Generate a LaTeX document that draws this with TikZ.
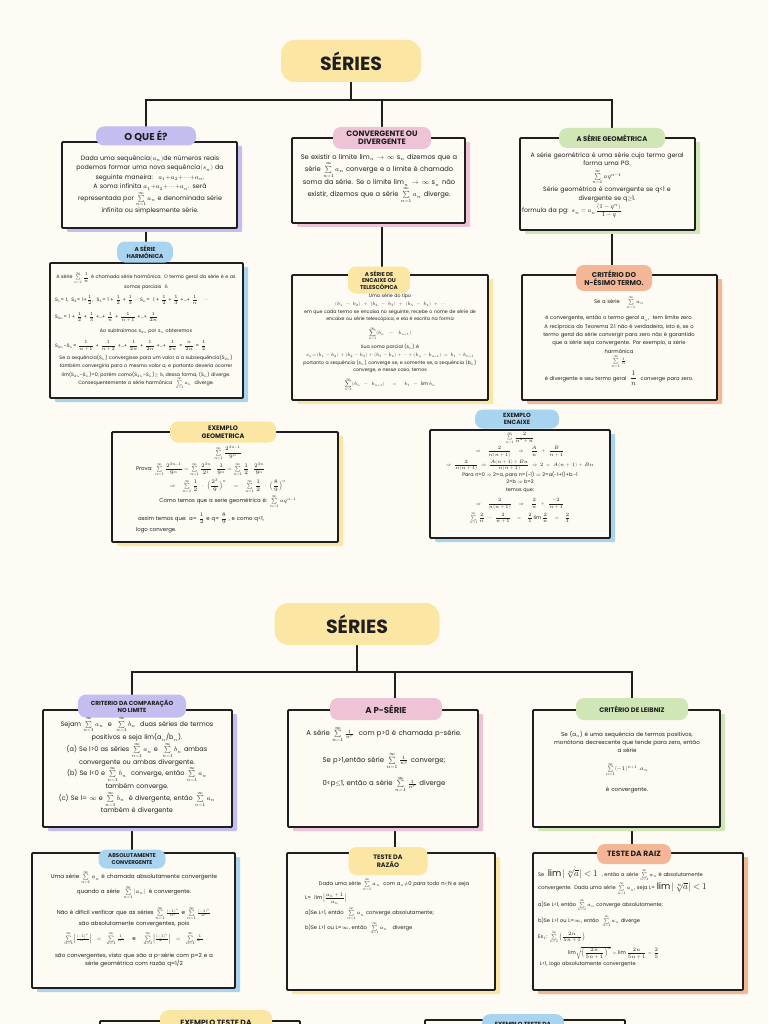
\documentclass[tikz,border=0pt]{standalone}
\usepackage{amsmath}
\usepackage{fontspec}
\usepackage{unicode-math}
\setmathfont{Latin Modern Math}
\setmainfont{Poppins}
\usetikzlibrary{shadows}
\definecolor{paper}{HTML}{FDFBF4}
\definecolor{ink}{HTML}{1F1F1F}
\definecolor{cyel}{HTML}{FBE6A4}
\definecolor{cpur}{HTML}{C4BDEF}
\definecolor{cpink}{HTML}{EFC3D6}
\definecolor{cgreen}{HTML}{D0E6B6}
\definecolor{cblue}{HTML}{A9D4EF}
\definecolor{corange}{HTML}{F3B797}
\pgfdeclarelayer{bg}
\pgfsetlayers{bg,main}
\newcommand\hf[2]{\fontsize{#1}{#2}\selectfont}
\newcommand\Lline[1]{\makebox[\linewidth][l]{#1}}
\newcommand\Sinf{\sum\limits_{n=1}^{\infty}}
\tikzset{
 pill/.style={fill=#1, rounded corners=8pt, inner sep=1pt, align=center, text=ink},
 card/.style={draw=ink, line width=1.8pt, fill=paper, rounded corners=1pt, inner sep=0pt,
   general shadow={fill=#1, shadow xshift=5pt, shadow yshift=-4pt}},
 txt/.style={align=center, text=ink, inner sep=0pt, anchor=north},
 link/.style={draw=ink, line width=2.4pt, line cap=round},
}
\newcommand\card[6]{\node[card=#6, minimum width={#4-#2}, minimum height={#5-#3}] (#1) at ({(#2+#4)/2},{(#3+#5)/2}) {};}
\begin{document}
\begin{tikzpicture}[x=1pt,y=-1pt]
\begin{pgfonlayer}{bg}
\fill[paper] (0,0) rectangle (768,1024);
\end{pgfonlayer}
\useasboundingbox (0,0) rectangle (768,1024);

% ---------------- PAGE 1 ----------------
\card{boque}{62}{142}{237}{228}{cpur}
\card{bconv}{292}{138}{465}{223}{cpink}
\card{bgeo}{520}{138}{695}{230}{cgreen}
\card{bharm}{50}{263}{243}{398}{cblue}
\card{benc}{292}{275}{488}{400}{cyel}
\card{bnes}{522}{275}{717}{400}{corange}
\card{bexg}{112}{432}{338}{542}{cyel}
\card{bexe}{430}{430}{610}{538}{cblue}

\node[pill=cyel, rounded corners=14pt, minimum width=140, minimum height=42, font=\bfseries\hf{19}{20}] (t1) at (351,61) {SÉRIES};
\node[pill=cpur, minimum width=100, minimum height=19, font=\bfseries\hf{10}{11}] (poque) at (146,136) {O QUE É?};
\node[pill=cpink, minimum width=98, minimum height=22, font=\bfseries\hf{7.8}{8.2}] (pconv) at (382,138) {CONVERGENTE OU\\DIVERGENTE};
\node[pill=cgreen, minimum width=106, minimum height=20, font=\bfseries\hf{6.8}{8}] (pgeo) at (612,138) {A SÉRIE GEOMÉTRICA};
\node[pill=cblue, minimum width=56, minimum height=21, font=\bfseries\hf{5.8}{6.8}] (pharm) at (145,252) {A SÉRIE\\HARMÔNICA};
\node[pill=cyel, minimum width=62, minimum height=27, font=\bfseries\hf{5.6}{6.6}] (penc) at (379,280) {A SÉRIE DE\\ENCAIXE OU\\TELESCÓPICA};
\node[pill=corange, minimum width=76, minimum height=26, font=\bfseries\hf{7}{8.3}] (pnes) at (614,278) {CRITÉRIO DO\\N-ÉSIMO TERMO.};
\node[pill=cyel, minimum width=106, minimum height=21, font=\bfseries\hf{6.5}{7.8}] (pexg) at (223,432) {EXEMPLO\\GEOMETRICA};
\node[pill=cblue, minimum width=84, minimum height=19, font=\bfseries\hf{6}{7}] (pexe) at (517,419) {EXEMPLO\\ENCAIXE};

\node[txt, text width=170, font=\hf{6.3}{9.6}] (toque) at (150,155) {Dada uma sequência$(a_n)$de números reais\\
podemos formar uma nova sequência$(s_n)$ da\\
seguinte maneira: \ $a_1{+}a_2{+}\cdots{+}a_n$.\\
A soma infinita $a_1{+}a_2{+}\cdots{+}a_n$. será\\
representada por $\Sinf a_n$ e denominada série\\
infinita ou simplesmente série.};

\node[txt, text width=172, font=\hf{6.7}{10.5}] (tconv) at (379,154) {Se existir o limite lim$_n\to\infty$ s$_n$ dizemos que a\\
série $\Sinf a_n$ converge e o limite é chamado\\
soma da série. Se o limite lim$_n\to\infty$ s$_n$ não\\
existir, dizemos que a série $\Sinf a_n$ diverge.};

\node[txt, text width=170, font=\hf{6.2}{8.6}] (tgeo) at (607,152) {A série geométrica é uma série cujo termo geral\\
forma uma PG.\\[3pt]
$\Sinf aq^{n-1}$\\[1pt]
Série geométrica é convergente se q<1 e\\
divergente se q$\geq$1.\\[1pt]
\Lline{formula da pg: $s_n=a_n\dfrac{(1-q^n)}{1-q}$}};

\node[txt, text width=182, font=\hf{4.8}{8.3}] (tharm) at (146,272) {A série $\Sinf\dfrac{1}{n}$ é chamada série harmônica. O termo geral da série é e as\\
somas parciais \ ½\\[5pt]
\Lline{S$_1$= 1, \ S$_2$= 1+$\dfrac12$, \ S$_3$= 1 + $\dfrac12$ + $\dfrac13$ $\cdots$ S$_n$= \ 1 + $\dfrac12$ + $\dfrac13$ +…+ $\dfrac1n$ \quad $\cdots$}\\[6pt]
\Lline{S$_{2n}$= 1 + $\dfrac12$ + $\dfrac13$ +…+ $\dfrac1n$ + $\dfrac1{n+1}$ +…+ $\dfrac1{2n}$}\\[6pt]
Ao subtrairmos s$_{2n}$ por s$_n$ obteremos\\[6pt]
\Lline{S$_{2n}$–S$_n$= $\dfrac1{n+1}$ + $\dfrac1{n+2}$ +…+ $\dfrac1{2n}$ + $\dfrac1{2n}$ +…+ $\dfrac1{2n}$ = $\dfrac{n}{2n}$ = $\dfrac12$}\\[4pt]
Se a sequência(S$_n$) convergisse para um valor a a subsequência(S$_{2n}$)\\
também convergiria para o mesmo valor a, e portanto deveria ocorrer\\
lim(S$_{2n}$–S$_n$)=0, porém como(S$_{2n}$–S$_n$)$\geq$ ½, dessa forma, (S$_n$) diverge.\\
Consequentemente a série harmônica \ $\Sinf a_n$ \ diverge.};

\node[txt, text width=188, font=\hf{4.7}{7.7}] (tenc) at (390,294) {Uma série do tipo\\
$(b_1-b_2)+(b_2-b_3)+(b_3-b_4)+\cdots$\\
em que cada termo se encaixa no seguinte, recebe o nome de série de\\
encaixe ou série telescópica, e ela é escrita na forma\\[4pt]
$\displaystyle\sum_{n=1}^{\infty}(b_n-b_{n+1})$\\[3pt]
Sua soma parcial (s$_n$) é\\
$s_n{=}\,(b_1-b_2)+(b_2-b_3)+(b_3-b_4)+\cdots+(b_n-b_{n+1})=b_1-b_{n+1}$\\
portanto a sequência (s$_n$) converge se, e somente se, a sequência (b$_n$)\\
converge, e nesse caso, temos\\[4pt]
$\displaystyle\sum_{n=1}^{\infty}(b_n-b_{n+1})=b_1-\lim b_n$};

\node[txt, text width=190, font=\hf{5.2}{8.4}] (tnes) at (619,296) {Se a série \quad $\Sinf a_n$\\[6pt]
é convergente, então o termo geral a$_n$, \ tem limite zero.\\
A recíproca do Teorema 2.1 não é verdadeira, isto é, se o\\
termo geral da série convergir para zero não é garantido\\
que a série seja convergente. Por exemplo, a série\\
harmônica\\[1pt]
$\Sinf\frac{1}{n}$\\[2pt]
é divergente e seu termo geral \ {\hf{7}{8}$\dfrac{1}{n}$} \ converge para zero.};

\node[txt, text width=200, font=\hf{5.4}{8.4}] (texg) at (228,446) {$\Sinf\dfrac{2^{3n-1}}{9^n}$\\[2pt]
\Lline{\hspace{8pt}Prova: $\Sinf\dfrac{2^{3n-1}}{9^n}=\Sinf\dfrac{2^{3n}}{2^1}\cdot\dfrac{1}{9^n}=\Sinf\dfrac12\cdot\dfrac{2^{3n}}{9^n}$}\\[2pt]
$\Rightarrow\Sinf\dfrac12\cdot\Big(\dfrac{2^3}{9}\Big)^n=\Sinf\dfrac12\cdot\Big(\dfrac89\Big)^n$\\[1pt]
Como temos que a serie geométrica é: $\Sinf aq^{n-1}$\\[4pt]
\Lline{\hspace{10pt}assim temos que: a= $\dfrac12$ e q= $\dfrac89$ , e como q<1,}\\[3pt]
\Lline{\hspace{8pt}logo converge.}};

\node[txt, text width=170, font=\hf{4.9}{7.4}] (texe) at (520,432) {$\Sinf\dfrac{2}{n^2+n}$\\[1pt]
$\Rightarrow\dfrac{2}{n(n+1)}\Rightarrow\dfrac{A}{n}+\dfrac{B}{n+1}$\\[1pt]
$\Rightarrow\dfrac{2}{n(n+1)}\Rightarrow\dfrac{A(n+1)+Bn}{n(n+1)}\Rightarrow2=A(n+1)+Bn$\\
Para n=0 $\Rightarrow$ 2=a, para n=(-1) $\Rightarrow$ 2=a(-1+1)+b.-1\\
2=b $\Rightarrow$ b=2\\
temos que:\\[5pt]
$\Rightarrow\dfrac{2}{n(n+1)}\Rightarrow\dfrac{2}{n}+\dfrac{-2}{n+1}$\\[2pt]
$\Sinf\dfrac{2}{n}-\dfrac{2}{n+1}=\dfrac{2}{1}\lim\dfrac{2}{n}=\dfrac{2}{1}$};

\begin{pgfonlayer}{bg}
\coordinate (hub1) at (351,100);
\draw[link] (t1.center) -- (hub1);
\draw[link] (poque.center) |- (hub1) -| (pgeo.center);
\draw[link] (hub1) -| (pconv.center);
\draw[link] (poque.center) -- (poque.center |- pharm.center);
\draw[link] (pconv.center) -- (pconv.center |- penc.center);
\draw[link] (pgeo.center) -- (pgeo.center |- pnes.center);
\end{pgfonlayer}

% ---------------- PAGE 2 ----------------
\card{bcomp}{43}{710}{232}{827}{cpur}
\card{bps}{288}{710}{478}{827}{cpink}
\card{bleib}{533}{710}{720}{827}{cgreen}
\card{babs}{32}{853}{235}{988}{cblue}
\card{braz}{287}{853}{495}{990}{cyel}
\card{braiz}{533}{853}{743}{990}{corange}
\card{bext1}{100}{1021}{300}{1130}{cyel}
\card{bext2}{425}{1020}{625}{1130}{cblue}

\node[pill=cyel, rounded corners=14pt, minimum width=165, minimum height=42, font=\bfseries\hf{19}{20}] (t2) at (357,624) {SÉRIES};
\node[pill=cpur, minimum width=108, minimum height=23, font=\bfseries\hf{5.9}{7.2}] (pcomp) at (132,706) {CRITERIO DA COMPARAÇÃO\\NO LIMITE};
\node[pill=cpink, minimum width=112, minimum height=22, font=\bfseries\hf{8.6}{9}] (pps) at (386,709) {A P-SÉRIE};
\node[pill=cgreen, minimum width=112, minimum height=22, font=\bfseries\hf{6.6}{7}] (pleib) at (632,709) {CRITÉRIO DE LEIBNIZ};
\node[pill=cblue, minimum width=67, minimum height=19, font=\bfseries\hf{5.5}{6.6}] (pabs) at (132,859) {ABSOLUTAMENTE\\CONVERGENTE};
\node[pill=cyel, minimum width=79, minimum height=28, font=\bfseries\hf{6.4}{7.8}] (praz) at (388,861) {TESTE DA\\RAZÃO};
\node[pill=corange, minimum width=74, minimum height=20, font=\bfseries\hf{7.6}{8}] (praiz) at (634,854) {TESTE DA RAIZ};
\node[pill=cyel, minimum width=112, minimum height=26, font=\bfseries\hf{7.6}{8}, anchor=north] (pext1) at (216,1010) {EXEMPLO TESTE DA};
\node[pill=cblue, minimum width=82, minimum height=20, font=\bfseries\hf{6}{7}, anchor=north] (pext2) at (523,1014) {EXEMPLO TESTE DA};

\node[txt, text width=190, font=\hf{6.5}{10.2}] (tcomp) at (137,717) {Sejam $\Sinf a_n$ \ e \ $\Sinf b_n$ \ duas séries de termos\\
positivos e seja lim(a$_n$/b$_n$).\\
(a) Se l>0 as séries $\Sinf a_n$ e \ $\Sinf b_n$ ambas\\
convergente ou ambas divergente.\\
(b) Se l<0 e $\Sinf b_n$ \ converge, então $\Sinf a_n$\\
também converge.\\
(c) Se l= $\infty$ e $\Sinf b_n$ \ é divergente, então $\Sinf a_n$\\
também é divergente};

\node[txt, text width=185, font=\hf{6.9}{10}] (tps) at (384,726) {A série $\Sinf\frac{1}{n^p}$ \ com p>0 é chamada p-série.\\[9pt]
Se p>1,então série $\Sinf\frac{1}{n^p}$ converge;\\[6pt]
0<p$\leq$1, então a série $\Sinf\frac{1}{n^p}$ diverge};

\node[txt, text width=185, font=\hf{5.6}{8}] (tleib) at (627,731) {Se (a$_n$) é uma sequência de termos positivos,\\
monótona decrescente que tende para zero, então\\
a série\\[10pt]
$\Sinf(-1)^{n+1}.a_n$\\[10pt]
é convergente.};

\node[txt, text width=195, font=\hf{5.6}{8.2}] (tabs) at (134,871) {Uma série $\Sinf a_n$ é chamada absolutamente convergente\\
quando a série \ $\Sinf|a_n|$ \ é convergente.\\[7pt]
Não é difícil verificar que as séries $\Sinf\frac{(-1)^n}{n^2}$ e $\Sinf\frac{(-1)^n}{2^n}$\\
são absolutamente convergentes, pois\\[4pt]
$\Sinf\Big|\frac{(-1)^n}{n^2}\Big|=\Sinf\frac{1}{n^2}$ \quad e \quad $\Sinf\Big|\frac{(-1)^n}{2^n}\Big|=\Sinf\frac{1}{2^n}$\\[6pt]
são convergentes, visto que são a p-série com p=2 e a\\
série geométrica com razão q=1/2};

\node[txt, text width=178, font=\hf{5.2}{8.8}] (traz) at (394,878) {Dada uma série $\Sinf a_n$ \ com a$_n$$\neq$0 para todo n$\in$N e seja\\[1pt]
\Lline{L= \ $\lim\Big|\dfrac{a_n+1}{a_n}\Big|$}\\[2pt]
\Lline{a)Se L<1, então \ $\Sinf a_n$ converge absolutamente;}\\[1pt]
\Lline{b)Se L>1 ou L=$\infty$, então \ $\Sinf a_n$ \ \ diverge}};

\node[txt, anchor=north west, align=left, text width=205, font=\hf{5.1}{7.4}] (traiz) at (538,869) {Se \ {\hf{9}{9}$\lim|\sqrt[n]{a}|<1$} \ , então a série $\Sinf a_n$ é absolutamente\\
convergente. Dada uma série $\Sinf a_n$, seja L= {\hf{9}{9}$\lim|\sqrt[n]{a}|<1$}\\[3pt]
a)Se L<1, então $\Sinf a_n$ converge absolutamente;\\[3pt]
b)Se L>1 ou L=$\infty$, então \ $\Sinf a_n$ diverge\\[3pt]
Ex$_1$: $\Sinf\Big(\dfrac{2n}{5n+1}\Big)$\\[2pt]
\hspace{30pt}$\lim\sqrt[n]{\Big(\dfrac{2n}{5n+1}\Big)^n}=\lim\dfrac{2n}{5n+1}=\dfrac{2}{5}$\\[2pt]
\ L<1, logo absolutamente convergente};

\begin{pgfonlayer}{bg}
\coordinate (hub2) at (357,672);
\coordinate (j2) at (395,672);
\draw[link] (t2.center) -- (hub2);
\draw[link] (pcomp.center) |- (hub2) -| (pleib.center);
\draw[link] (j2) -- (j2 |- praz.center);
\draw[link] (pcomp.center) -- (pcomp.center |- pabs.center);
\draw[link] (pleib.center) -- (pleib.center |- praiz.center);
\end{pgfonlayer}
\end{tikzpicture}
\end{document}
